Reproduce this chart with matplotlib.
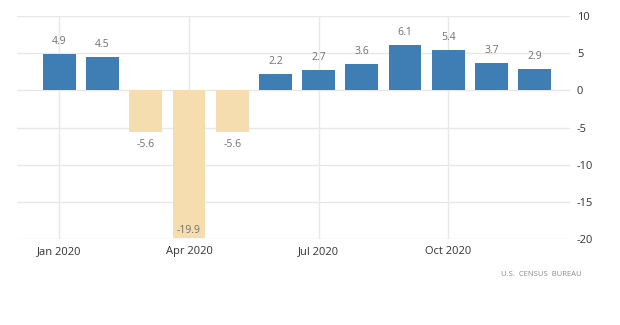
import numpy as np
import matplotlib
matplotlib.use("Agg")
import matplotlib.pyplot as plt

### DATA ###
months = ["Jan", "Feb", "Mar", "Apr", "May", "Jun",
          "Jul", "Aug", "Sep", "Oct", "Nov", "Dec"]
values = [4.9, 4.5, -5.6, -19.9, -5.6, 2.2, 2.7, 3.6, 6.1, 5.4, 3.7, 2.9]
xtick_pos = [0, 3, 6, 9]
xtick_labels = ["Jan 2020", "Apr 2020", "Jul 2020", "Oct 2020"]
yticks = [-20, -15, -10, -5, 0, 5, 10]
source = "U.S.  CENSUS  BUREAU"

### STYLE ###
BLUE = "#3f7db5"
BEIGE = "#f6ddb0"
GRID = "#e8e8e8"
LABEL = "#707070"

plt.rcParams["font.family"] = ["Open Sans", "DejaVu Sans"]

fig = plt.figure(figsize=(6.2, 3.25), dpi=100)
ax = fig.add_axes([17 / 620, 1 - 239 / 325, (570 - 17) / 620, (239 - 16) / 325])

x = np.arange(len(values))
colors = [BLUE if v >= 0 else BEIGE for v in values]
ax.bar(x, values, width=0.76, color=colors, zorder=2)

# value labels
for xi, v in zip(x, values):
    if v >= 0:
        ax.annotate(f"{v}", (xi, v), xytext=(0, 5), textcoords="offset points",
                    ha="center", va="bottom", fontsize=7.5, color=LABEL)
    elif v < -18:
        ax.annotate(f"{v}", (xi, -20), xytext=(0, 2), textcoords="offset points",
                    ha="center", va="bottom", fontsize=7.5, color=LABEL)
    else:
        ax.annotate(f"{v}", (xi, v), xytext=(0, -5), textcoords="offset points",
                    ha="center", va="top", fontsize=7.5, color=LABEL)

ax.set_xlim(-0.98, 11.82)
ax.set_ylim(-20, 10)
ax.set_yticks(yticks)
ax.set_yticklabels([str(t) for t in yticks])
ax.set_xticks(xtick_pos)
ax.set_xticklabels(xtick_labels)
ax.yaxis.tick_right()
ax.tick_params(axis="both", length=0, labelsize=8, colors="#333333")
ax.tick_params(axis="y", pad=5)
ax.tick_params(axis="x", pad=5)

ax.grid(True, color=GRID, linewidth=1, zorder=0)
ax.set_axisbelow(True)
for s in ax.spines.values():
    s.set_visible(False)

fig.text(582 / 620, 1 - 275 / 325, source, ha="right", va="center",
         fontsize=5.5, color="#8a8a8a")

fig.savefig("out.png", dpi=100)
